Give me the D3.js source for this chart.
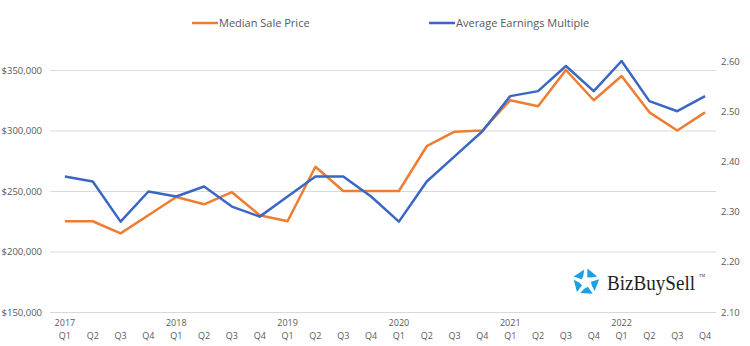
<!DOCTYPE html>
<html lang="en">
<head>
    <meta charset="UTF-8">
    <title>Median Sale Price vs Earnings Multiple</title>
    <style>
        body { margin: 0; background: #fff; }
        #chart text { font-family: "Open Sans", "Noto Sans", sans-serif; fill: #595959; }
    </style>
</head>
<body>
    <div id="chart"></div>
</body>
<script src="https://d3js.org/d3.v7.min.js"></script>
<script>
    // data
    var years = ["2017", "2018", "2019", "2020", "2021", "2022"];
    var quarters = ["Q1", "Q2", "Q3", "Q4"];
    var medianPrice = [225000, 225000, 215000, 230000, 245000, 239000, 249000, 230000,
        225000, 270000, 250000, 250000, 250000, 287000, 299000, 300000,
        325000, 320000, 350000, 325000, 345000, 315000, 300000, 315000];
    var earningsMultiple = [2.37, 2.36, 2.28, 2.34, 2.33, 2.35, 2.31, 2.29,
        2.33, 2.37, 2.37, 2.33, 2.28, 2.36, 2.41, 2.46,
        2.53, 2.54, 2.59, 2.54, 2.60, 2.52, 2.50, 2.53];
    var priceTicks = [150000, 200000, 250000, 300000, 350000];
    var multipleTicks = [2.1, 2.2, 2.3, 2.4, 2.5, 2.6];

    var periods = [];
    years.forEach(function (y) {
        quarters.forEach(function (q) { periods.push(y + " " + q); });
    });

    var W = 750, H = 346;
    var orange = "#ED7D31", blue = "#3A66C4";

    var svg = d3.select("#chart").append("svg")
        .attr("width", W)
        .attr("height", H);

    var x = d3.scaleBand().domain(periods).range([51, 719]);
    var yLeft = d3.scaleLinear().domain([150000, 350000]).range([312, 70]);
    var yRight = d3.scaleLinear().domain([2.1, 2.6]).range([312, 61]);

    // gridlines
    svg.append("g")
        .selectAll("line")
        .data(priceTicks)
        .join("line")
        .attr("x1", 50).attr("x2", 716)
        .attr("y1", function (d) { return yLeft(d) + 0.5; })
        .attr("y2", function (d) { return yLeft(d) + 0.5; })
        .attr("stroke", "#d9d9d9")
        .attr("stroke-width", 1);

    // left axis
    var leftAxis = svg.append("g")
        .attr("transform", "translate(42,0)")
        .call(d3.axisLeft(yLeft).tickValues(priceTicks).tickSize(0).tickPadding(0)
            .tickFormat(function (d) { return "$" + d3.format(",")(d); }));
    leftAxis.select(".domain").remove();
    leftAxis.selectAll("text").style("font-size", "9.5px");

    // right axis
    var rightAxis = svg.append("g")
        .attr("transform", "translate(721,0)")
        .call(d3.axisRight(yRight).tickValues(multipleTicks).tickSize(0).tickPadding(0)
            .tickFormat(d3.format(".2f")));
    rightAxis.select(".domain").remove();
    rightAxis.selectAll("text").style("font-size", "9.5px");

    // bottom axis: quarters, with year on each Q1
    var bottomAxis = svg.append("g")
        .attr("transform", "translate(0,339)")
        .call(d3.axisBottom(x).tickSize(0).tickPadding(0)
            .tickFormat(function (d) { return d.split(" ")[1]; }));
    bottomAxis.select(".domain").remove();
    bottomAxis.selectAll("text")
        .attr("y", 0)
        .attr("dy", null)
        .style("font-size", "9px");

    svg.append("g")
        .selectAll("text")
        .data(periods.filter(function (d) { return d.split(" ")[1] === "Q1"; }))
        .join("text")
        .attr("x", function (d) { return x(d) + x.bandwidth() / 2; })
        .attr("y", 326)
        .attr("text-anchor", "middle")
        .style("font-size", "9px")
        .text(function (d) { return d.split(" ")[0]; });

    // lines
    var cx = function (i) { return x(periods[i]) + x.bandwidth() / 2; };

    svg.append("path")
        .datum(medianPrice)
        .attr("fill", "none")
        .attr("stroke", orange)
        .attr("stroke-width", 2.5)
        .attr("stroke-linejoin", "round")
        .attr("d", d3.line().x(function (d, i) { return cx(i); }).y(function (d) { return yLeft(d); }));

    svg.append("path")
        .datum(earningsMultiple)
        .attr("fill", "none")
        .attr("stroke", blue)
        .attr("stroke-width", 2.5)
        .attr("stroke-linejoin", "round")
        .attr("d", d3.line().x(function (d, i) { return cx(i); }).y(function (d) { return yRight(d); }));

    // legend
    var legend = [
        { name: "Median Sale Price", color: orange, x: 192 },
        { name: "Average Earnings Multiple", color: blue, x: 429 }
    ];
    var lg = svg.append("g").selectAll("g").data(legend).join("g")
        .attr("transform", function (d) { return "translate(" + d.x + ",23)"; });
    lg.append("line")
        .attr("x1", 0).attr("x2", 26)
        .attr("stroke", function (d) { return d.color; })
        .attr("stroke-width", 2.5);
    lg.append("text")
        .attr("x", 27)
        .attr("dy", "0.35em")
        .style("font-size", "11px")
        .text(function (d) { return d.name; });

    // BizBuySell logo
    var logo = svg.append("g").attr("transform", "translate(586,282)");
    var R = 13.5, r = 5;
    for (var k = 0; k < 5; k++) {
        var a0 = -90 + k * 72;
        var pts = [
            [R, a0 + 6], [R - 1, a0 + 64], [r + 2, a0 + 50], [r, a0 + 14]
        ].map(function (p) {
            var a = p[1] * Math.PI / 180;
            return [p[0] * Math.cos(a), p[0] * Math.sin(a)];
        });
        logo.append("path")
            .attr("d", "M" + pts.join("L") + "Z")
            .attr("fill", "#1E9FE0");
    }
    svg.append("text")
        .attr("x", 607)
        .attr("y", 290)
        .attr("textLength", 88)
        .attr("lengthAdjust", "spacingAndGlyphs")
        .style("font-family", "'Liberation Serif', 'DejaVu Serif', serif")
        .style("font-size", "20px")
        .style("fill", "#231f20")
        .text("BizBuySell");
    svg.append("text")
        .attr("x", 699)
        .attr("y", 277)
        .style("font-family", "'Liberation Serif', serif")
        .style("font-size", "4px")
        .style("fill", "#231f20")
        .text("TM");
</script>
</html>
